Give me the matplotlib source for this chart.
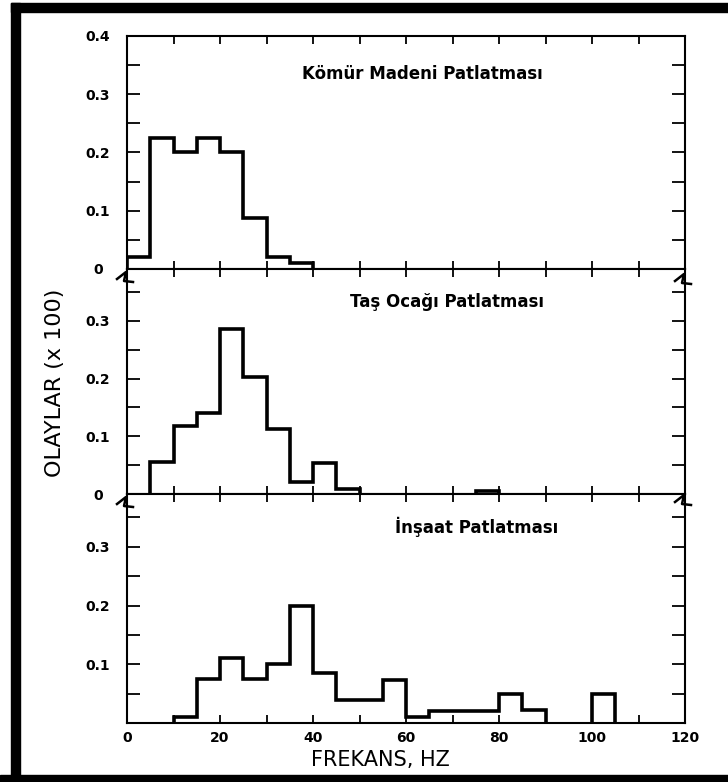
import matplotlib
matplotlib.use("Agg")
import matplotlib.pyplot as plt
from matplotlib.lines import Line2D
from matplotlib.patches import Rectangle
from matplotlib.ticker import MultipleLocator

# ---- data ----
edges = list(range(0, 115, 5))  # 0..110 Hz, 5 Hz bins

komur = [0.02, 0.225, 0.20, 0.225, 0.20, 0.087, 0.02, 0.01,
         0, 0, 0, 0, 0, 0, 0, 0, 0, 0, 0, 0, 0, 0]
tas = [0, 0.055, 0.118, 0.14, 0.286, 0.202, 0.113, 0.021, 0.054, 0.009,
       0, 0, 0, 0, 0, 0.005, 0, 0, 0, 0, 0, 0]
insaat = [0, 0, 0.01, 0.075, 0.11, 0.075, 0.10, 0.20, 0.085, 0.04, 0.04,
          0.073, 0.011, 0.02, 0.02, 0.02, 0.05, 0.022, 0, 0, 0.05, 0]

panel_titles = ["Kömür Madeni Patlatması", "Taş Ocağı Patlatması", "İnşaat Patlatması"]
ymax = [0.40, 0.39, 0.39]
ytick_labels = [["0", "0.1", "0.2", "0.3", "0.4"],
                ["0", "0.1", "0.2", "0.3"],
                ["0.1", "0.2", "0.3"]]
yticks = [[0, 0.1, 0.2, 0.3, 0.4], [0, 0.1, 0.2, 0.3], [0.1, 0.2, 0.3]]
xticks = [0, 20, 40, 60, 80, 100, 120]
xtick_labels = ["0", "20", "40", "60", "80", "100", "120"]

W, H = 728, 782
fig = plt.figure(figsize=(W / 100, H / 100), dpi=100)


def fx(px):
    return px / W


def fy(py):
    return 1 - py / H


def runs(vals):
    # contiguous non-zero bins, so empty bins leave only the thin spine
    out, start = [], None
    for k, v in enumerate(vals + [0]):
        if v > 0 and start is None:
            start = k
        elif v == 0 and start is not None:
            out.append((start, k))
            start = None
    return out


# panel boxes in pixel coords (top, bottom)
left_px, right_px = 127, 685
boxes = [(36, 269), (269, 494), (494, 723)]
title_pos = [(302, 74), (350, 302), (395, 527)]

for i, (top, bot) in enumerate(boxes):
    ax = fig.add_axes([fx(left_px), fy(bot), fx(right_px) - fx(left_px),
                       (bot - top) / H])
    vals = [komur, tas, insaat][i]
    for a, b in runs(vals):
        ax.stairs(vals[a:b], edges[a:b + 1], baseline=0, color="black",
                  linewidth=2.6)
    ax.set_xlim(0, 120)
    ax.set_ylim(0, ymax[i])
    for sp in ax.spines.values():
        sp.set_linewidth(1.5)
        sp.set_zorder(3)
    ax.xaxis.set_major_locator(MultipleLocator(20))
    ax.xaxis.set_minor_locator(MultipleLocator(10))
    ax.yaxis.set_minor_locator(MultipleLocator(0.05))
    ax.set_yticks(yticks[i])
    ax.set_yticklabels(ytick_labels[i], fontsize=10, fontweight="bold",
                       family="DejaVu Sans")
    for lab in ax.get_yticklabels():
        lab.set_horizontalalignment("center")
    ax.tick_params(axis="y", which="both", direction="in", left=True,
                   right=True, length=9.5, width=1.3, pad=21)
    ax.tick_params(axis="x", which="both", direction="in", top=True,
                   bottom=True, length=6, width=1.3, pad=6)
    if i < 2:
        ax.set_xticklabels([])
    else:
        ax.set_xticks(xticks)
        ax.set_xticklabels(xtick_labels, fontsize=10, fontweight="bold",
                           family="DejaVu Sans")
    tx, ty = title_pos[i]
    fig.text(fx(tx), fy(ty), panel_titles[i], ha="left", va="center",
             fontsize=12, fontweight="bold", family="DejaVu Sans")

# axis labels
fig.text(fx(55), fy(383), "OLAYLAR (x 100)", rotation=90, ha="center",
         va="center", fontsize=16, family="DejaVu Sans")
fig.text(fx(380), fy(760), "FREKANS, HZ", ha="center", va="center",
         fontsize=15, family="DejaVu Sans")

# zigzag break marks on both side spines at the panel joins
zig = [(-10, 3), (-1, -4), (-3, 5), (6, 6)]
for xs, ys in [(left_px, 276), (left_px, 501), (right_px, 278), (right_px, 499)]:
    xs_pts = [fx(xs + dx) for dx, dy in zig]
    ys_pts = [fy(ys + dy) for dx, dy in zig]
    fig.add_artist(Line2D(xs_pts, ys_pts, color="black", linewidth=1.8,
                          transform=fig.transFigure))

# black frame (left, top, bottom)
fig.add_artist(Rectangle((fx(11), 0), fx(9), fy(3), transform=fig.transFigure,
                         color="black"))
fig.add_artist(Rectangle((fx(11), fy(12)), 1, fy(3) - fy(12),
                         transform=fig.transFigure, color="black"))
fig.add_artist(Rectangle((0, 0), 1, fy(775), transform=fig.transFigure,
                         color="black"))

fig.savefig("out.png", dpi=100)
